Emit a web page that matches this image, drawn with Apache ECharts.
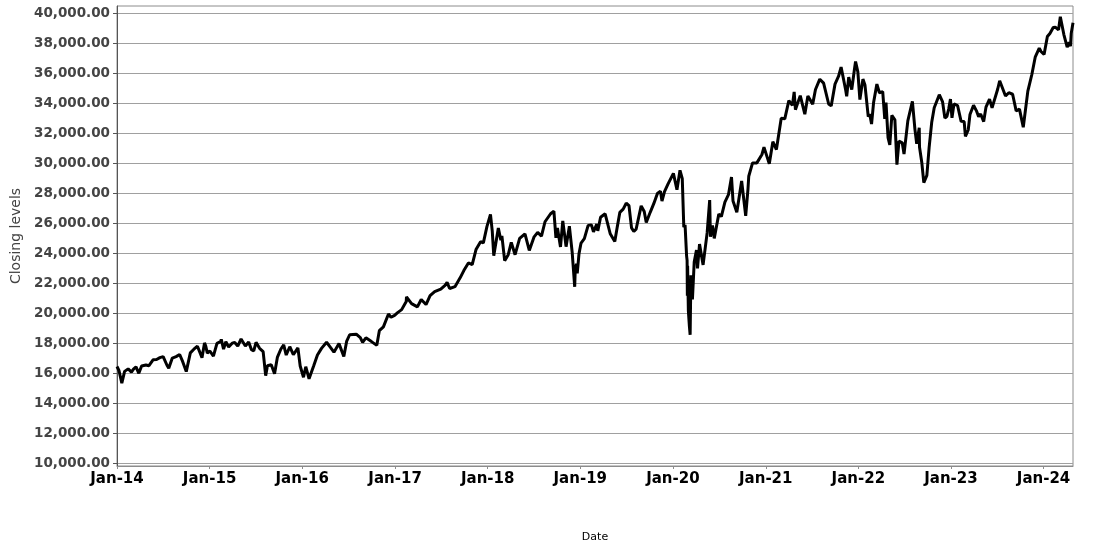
<!DOCTYPE html>
<html>
<head>
<meta charset="utf-8">
<script src="https://cdn.jsdelivr.net/npm/echarts@6/dist/echarts.min.js"></script>
<style>
html,body{margin:0;padding:0;background:#fff;}
#chart{width:1100px;height:550px;}
</style>
</head>
<body>
<div id="chart"></div>
<script>
// Closing levels (approximate)
const dates = [
"2014-01-15","2014-01-23","2014-02-03","2014-02-14","2014-02-28","2014-03-13","2014-03-21","2014-03-31","2014-04-11","2014-04-22","2014-05-09","2014-05-21","2014-06-06","2014-06-20","2014-07-03","2014-07-16","2014-07-31","2014-08-07","2014-08-21","2014-09-05","2014-09-19","2014-10-01","2014-10-15","2014-10-31","2014-11-14","2014-11-28","2014-12-05","2014-12-16","2014-12-26","2014-12-31",
"2015-01-06","2015-01-16","2015-01-30","2015-02-13","2015-02-27","2015-03-02","2015-03-11","2015-03-20","2015-03-31","2015-04-14","2015-04-24","2015-05-06","2015-05-19","2015-06-05","2015-06-18","2015-06-29","2015-07-08","2015-07-17","2015-07-31","2015-08-14","2015-08-24","2015-08-31","2015-09-15","2015-09-28","2015-10-09","2015-10-23","2015-11-03","2015-11-13","2015-11-27","2015-12-11","2015-12-29",
"2016-01-07","2016-01-20","2016-01-29","2016-02-11","2016-02-29","2016-03-15","2016-03-31","2016-04-20","2016-05-06","2016-05-19","2016-06-08","2016-06-27","2016-07-08","2016-07-20","2016-08-15","2016-08-31","2016-09-09","2016-09-22","2016-10-14","2016-11-04","2016-11-14","2016-11-30","2016-12-20","2016-12-30",
"2017-01-13","2017-01-25","2017-02-10","2017-02-28","2017-03-01","2017-03-21","2017-04-13","2017-04-28","2017-05-17","2017-06-02","2017-06-20","2017-07-14","2017-07-31","2017-08-08","2017-08-18","2017-09-08","2017-09-29","2017-10-13","2017-10-31","2017-11-15","2017-11-30","2017-12-18","2017-12-29",
"2018-01-12","2018-01-26","2018-02-02","2018-02-08","2018-02-26","2018-03-08","2018-03-12","2018-03-23","2018-04-06","2018-04-18","2018-05-03","2018-05-21","2018-06-11","2018-06-28","2018-07-17","2018-07-31","2018-08-15","2018-08-29","2018-09-20","2018-10-03","2018-10-11","2018-10-17","2018-10-29","2018-11-07","2018-11-20","2018-12-03","2018-12-14","2018-12-24","2018-12-26","2018-12-31",
"2019-01-03","2019-01-10","2019-01-18","2019-01-31","2019-02-15","2019-02-28","2019-03-08","2019-03-21","2019-03-25","2019-04-05","2019-04-23","2019-05-13","2019-05-31","2019-06-10","2019-06-20","2019-07-03","2019-07-15","2019-07-26","2019-08-05","2019-08-14","2019-08-23","2019-09-12","2019-09-24","2019-10-02","2019-10-18","2019-11-01","2019-11-15","2019-11-27","2019-12-03","2019-12-13","2019-12-27",
"2020-01-03","2020-01-17","2020-01-31","2020-02-12","2020-02-21","2020-02-27","2020-03-03","2020-03-09","2020-03-11","2020-03-12","2020-03-13","2020-03-16","2020-03-20","2020-03-23","2020-03-26","2020-04-01","2020-04-08","2020-04-17","2020-04-21","2020-04-29","2020-05-13","2020-05-29","2020-06-08","2020-06-11","2020-06-19","2020-06-26","2020-07-14","2020-07-24","2020-08-07","2020-08-21","2020-09-02","2020-09-08","2020-09-23","2020-10-12","2020-10-28","2020-11-06","2020-11-09","2020-11-24","2020-12-11","2020-12-31",
"2021-01-08","2021-01-29","2021-02-12","2021-02-26","2021-03-04","2021-03-17","2021-03-31","2021-04-16","2021-04-30","2021-05-07","2021-05-12","2021-05-31","2021-06-18","2021-06-30","2021-07-19","2021-07-30","2021-08-16","2021-08-31","2021-09-20","2021-09-30","2021-10-15","2021-10-29","2021-11-08","2021-11-26","2021-11-30","2021-12-08","2021-12-20","2021-12-31",
"2022-01-04","2022-01-13","2022-01-21","2022-01-27","2022-02-02","2022-02-10","2022-02-23","2022-03-01","2022-03-08","2022-03-16","2022-03-29","2022-04-08","2022-04-21","2022-04-29","2022-05-04","2022-05-12","2022-05-19","2022-05-27","2022-06-08","2022-06-16","2022-06-24","2022-07-07","2022-07-14","2022-07-29","2022-08-16","2022-08-26","2022-09-02","2022-09-12","2022-09-13","2022-09-22","2022-09-30","2022-10-12","2022-10-21","2022-10-31","2022-11-10","2022-11-30","2022-12-13","2022-12-22","2022-12-30",
"2023-01-06","2023-01-13","2023-01-19","2023-01-27","2023-02-02","2023-02-10","2023-02-24","2023-03-08","2023-03-13","2023-03-15","2023-03-24","2023-03-31","2023-04-14","2023-04-25","2023-05-04","2023-05-12","2023-05-24","2023-05-31","2023-06-02","2023-06-16","2023-06-26","2023-07-18","2023-07-26","2023-07-31","2023-08-18","2023-08-31","2023-09-15","2023-09-29","2023-10-12","2023-10-27","2023-11-14","2023-11-30","2023-12-13","2023-12-29",
"2024-01-05","2024-01-17","2024-01-30","2024-02-09","2024-02-22","2024-03-01","2024-03-14","2024-03-21","2024-03-28","2024-04-04","2024-04-17","2024-04-25","2024-04-30","2024-05-03","2024-05-10"
];
const closes = [
16481,16197,15373,16154,16321,16109,16302,16457,16027,16514,16583,16533,16924,16947,17068,17138,16563,16368,17039,17137,17279,16804,16141,17390,17634,17828,17958,17068,18053,17823,
17371,17512,17165,18019,18133,18289,17635,18128,17776,18036,18080,17841,18312,17849,18116,17596,17515,18086,17690,17477,15871,16528,16600,16001,17084,17647,17918,17245,17798,17265,17720,
16514,15766,16466,15660,16516,17251,17685,18096,17740,17435,18005,17140,18147,18595,18636,18400,18085,18392,18138,17888,18869,19123,19974,19763,
19886,20068,20269,20812,21115,20668,20453,20941,20606,21206,21467,21638,21891,22085,21675,21798,22405,22871,23377,23271,24272,24792,24719,
25803,26617,25521,23860,25709,24895,25179,23533,23933,24748,23930,25013,25322,24216,25120,25415,25162,26124,26657,26828,25052,25706,24443,26180,24465,25826,24100,21792,22878,23327,
22686,24001,24706,24999,25883,25916,25450,25962,25516,26425,26656,25325,24815,25800,26753,26966,27359,27192,25718,25479,25628,27182,26807,26078,26770,27347,28005,28164,27503,28135,28645,
28634,29348,28256,29551,28992,25767,25917,23851,23553,21200,23185,20188,19174,18592,22552,20943,23434,24242,23019,24634,23247,25383,27572,25128,25871,25016,26643,26470,27433,27930,29100,27500,26763,28838,26520,28323,29158,30046,30047,30606,
31098,29983,31458,30932,30924,33015,32982,34200,33875,34778,33587,34529,33290,34502,33962,34935,35625,35361,33970,33844,35295,35820,36432,34899,34484,35754,34932,36338,
36799,36114,34265,34160,35629,35242,33131,33294,32633,34063,35294,34721,34793,32977,34061,31730,31253,33213,32910,29927,31500,31384,30630,32845,34152,32283,31318,32381,31105,30077,28725,29210,31082,32733,33716,34590,34108,33027,33147,
33631,34303,33045,33978,34054,33870,32817,32798,31820,31875,32238,33274,33886,33531,33128,33301,32800,32908,33762,34299,33714,34952,35520,35560,34500,34722,34619,33508,33631,32418,34828,35951,37090,37690,
37466,37266,38467,38672,39069,39087,38906,39781,39807,38597,37753,38086,37816,38676,39390
];
const yTicks = [10000,12000,14000,16000,18000,20000,22000,24000,26000,28000,30000,32000,34000,36000,38000,40000];
const xTickYears = [2014,2015,2016,2017,2018,2019,2020,2021,2022,2023,2024];
const xStart = "2014-01-15";
const xEnd = "2024-05-10";
const yMin = 9850;
const yMax = 40500;

function ts(s){const p=s.split('-').map(Number);return Date.UTC(p[0],p[1]-1,p[2]);}
const seriesData = dates.map((d,i)=>[ts(d),closes[i]]);
const xTicks = xTickYears.map(y=>Date.UTC(y,0,15));

const chart = echarts.init(document.getElementById('chart'));
chart.setOption({
  animation:false,
  backgroundColor:'#ffffff',
  grid:{left:117,right:27,top:6,bottom:84,show:true,borderColor:'#8c8c8c',borderWidth:1,backgroundColor:'transparent'},
  xAxis:{
    type:'value',
    min:ts(xStart),max:ts(xEnd),
    name:'Date',nameLocation:'middle',nameGap:66,
    nameTextStyle:{fontFamily:'DejaVu Sans',fontSize:11,color:'#000'},
    axisLine:{show:true,lineStyle:{color:'#8c8c8c',width:1}},
    axisTick:{show:true,customValues:xTicks,length:3,lineStyle:{color:'#8c8c8c'}},
    axisLabel:{customValues:xTicks,margin:6,fontFamily:'DejaVu Sans',fontWeight:'bold',fontSize:15,color:'#000',
      formatter:function(v){return 'Jan-'+String(new Date(v).getUTCFullYear()).slice(2);}},
    splitLine:{show:false}
  },
  yAxis:{
    type:'value',
    min:yMin,max:yMax,
    name:'Closing levels',nameLocation:'middle',nameGap:90,nameRotate:90,
    nameTextStyle:{fontFamily:'DejaVu Sans',fontSize:14,color:'#444'},
    axisLine:{show:true,lineStyle:{color:'#555',width:1}},
    axisTick:{show:true,customValues:yTicks,length:4,lineStyle:{color:'#555'}},
    axisLabel:{customValues:yTicks,margin:7,fontFamily:'DejaVu Sans',fontWeight:'bold',fontSize:13.5,color:'#444',
      formatter:function(v){return v.toLocaleString('en-US',{minimumFractionDigits:2,maximumFractionDigits:2});}},
    splitLine:{show:true,lineStyle:{color:'#a0a0a0',width:1}}
  },
  series:[{
    type:'line',data:seriesData,showSymbol:false,symbol:'none',
    lineStyle:{color:'#000',width:3},
    itemStyle:{color:'#000'}
  }]
});
</script>
</body>
</html>
